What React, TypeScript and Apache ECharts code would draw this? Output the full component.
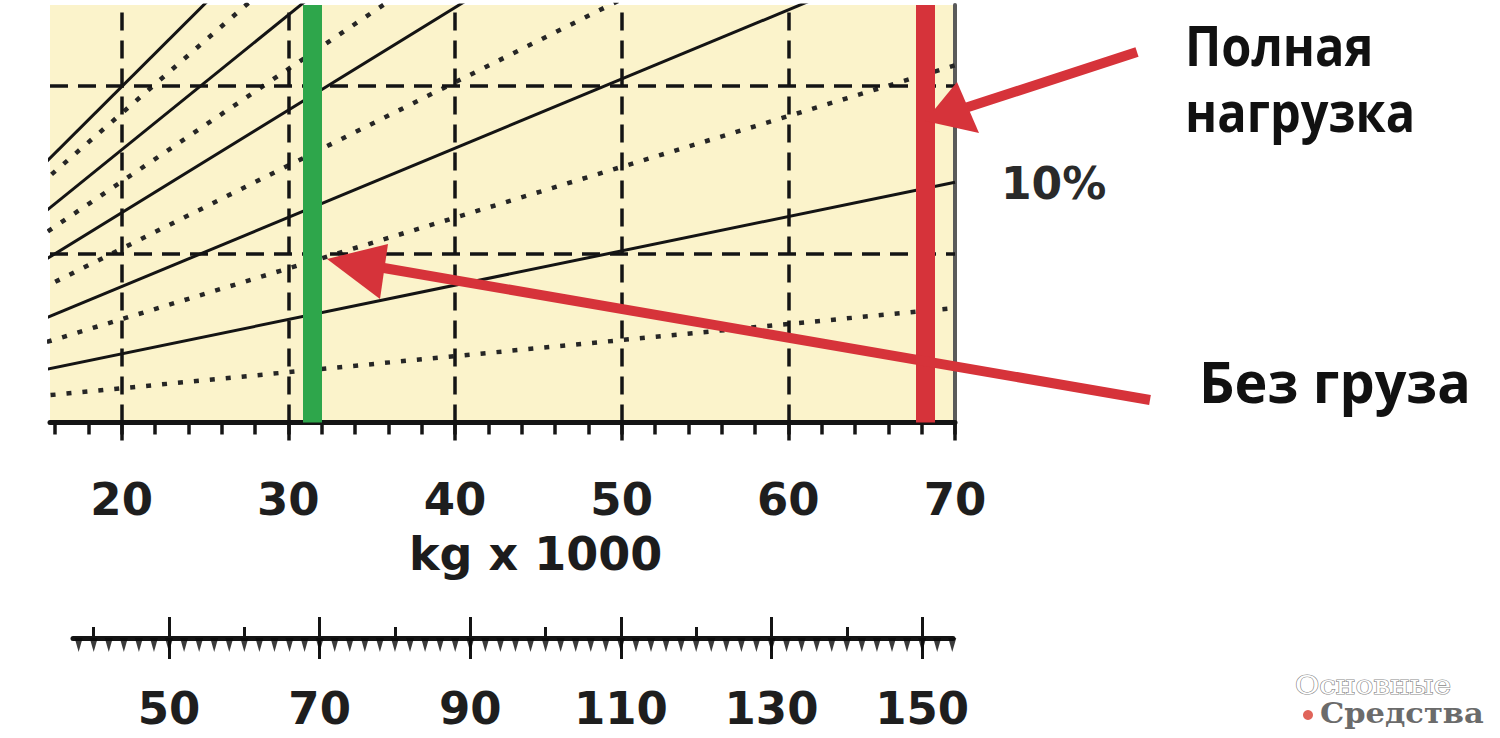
import React, { useEffect, useRef } from "react";
import * as echarts from "echarts";

// Gross weight axis (kg x 1000)
const weightMinorTicks = [16, 18, 20, 22, 24, 26, 28, 30, 32, 34, 36, 38, 40, 42, 44, 46, 48, 50, 52, 54, 56, 58, 60, 62, 64, 66, 68, 70];
const weightLabels = [20, 30, 40, 50, 60, 70];
const weightGridLines = [20, 30, 40, 50, 60];
// Rimpull / resistance grid lines (kg x 1000)
const rimpullGridLines = [5, 10];
// Total-resistance lines: values read at two weights
const lineWeights = [10, 70];
const grades = ["5%", "10%", "15%", "20%", "25%", "30%", "35%", "40%", "45%", "50%"];
const rimpullAt10t = [0.54, 1.02, 1.56, 1.98, 2.69, 3.18, 3.81, 4.09, 4.87, 5.04];
const rimpullAt70t = [3.4, 7.13, 10.6, 14.3, 17.5, 21.45, 23.85, 28.1, 30.7, 34.6];
// Second scale (lb x 1000)
const lbMinorTicks = [38, 40, 42, 44, 46, 48, 50, 52, 54, 56, 58, 60, 62, 64, 66, 68, 70, 72, 74, 76, 78, 80, 82, 84, 86, 88, 90, 92, 94, 96, 98, 100, 102, 104, 106, 108, 110, 112, 114, 116, 118, 120, 122, 124, 126, 128, 130, 132, 134, 136, 138, 140, 142, 144, 146, 148, 150, 152, 154];
const lbMajor = [50, 70, 90, 110, 130, 150];
const lbMedium = [40, 60, 80, 100, 120, 140];
// Marked weights
const emptyWeight = 31.46;
const fullWeight = 68.2;

const RED = "#D6333A";
const GREEN = "#2EA64B";
const INK = "#141414";

export default function App() {
  const ref = useRef<HTMLDivElement>(null);

  useEffect(() => {
    document.body.style.margin = "0";
    document.body.style.background = "#ffffff";
    if (!ref.current) return;
    const chart = echarts.init(ref.current, null, { renderer: "svg" });

    const labelFont = {
      fontFamily: "DejaVu Sans",
      fontWeight: "bold" as const,
      fontSize: 45,
      color: "#1e1e1e",
    };

    const gradeSeries = grades.map((g, i) => ({
      type: "line",
      name: g,
      xAxisIndex: 0,
      yAxisIndex: 0,
      data: [
        [lineWeights[0], rimpullAt10t[i]],
        [lineWeights[1], rimpullAt70t[i]],
      ],
      symbol: "none",
      clip: true,
      silent: true,
      z: 3,
      lineStyle:
        i % 2 === 0
          ? { color: "#262626", width: 4.5, type: [5, 11], cap: "butt" }
          : { color: INK, width: 3 },
    }));

    const lbAxisBase = { type: "value", gridIndex: 1, min: 37.25, max: 154.1, position: "bottom", splitLine: { show: false } };

    const option: any = {
      animation: false,
      backgroundColor: "#ffffff",
      grid: [
        { left: 50, top: 5, width: 905, height: 417.5, show: true, backgroundColor: "#FBF3CB", borderWidth: 0 },
        { left: 73, top: 600, width: 880, height: 38, show: false },
      ],
      xAxis: [
        {
          type: "value", gridIndex: 0, min: 15.7, max: 70, position: "bottom", offset: 1,
          axisLine: { show: true, lineStyle: { color: INK, width: 5 } },
          axisTick: { show: true, customValues: weightMinorTicks, length: 12, lineStyle: { color: INK, width: 3.5 } },
          axisLabel: { show: false }, splitLine: { show: false },
        },
        {
          type: "value", gridIndex: 0, min: 15.7, max: 70, position: "bottom", offset: 1,
          axisLine: { show: false },
          axisTick: { show: true, customValues: weightLabels, length: 17, lineStyle: { color: INK, width: 3.5 } },
          axisLabel: { show: true, customValues: weightLabels, margin: 53, ...labelFont },
          splitLine: { show: false },
        },
        {
          ...lbAxisBase,
          axisLine: { show: true, lineStyle: { color: INK, width: 5 } },
          axisTick: { show: false },
          axisLabel: { show: false },
        },
        {
          ...lbAxisBase,
          axisLine: { show: false },
          axisTick: { show: true, customValues: lbMajor, length: 21, lineStyle: { color: INK, width: 3 } },
          axisLabel: { show: true, customValues: lbMajor, margin: 48, ...labelFont },
        },
        {
          ...lbAxisBase,
          axisLine: { show: false },
          axisTick: { show: true, inside: true, customValues: lbMajor, length: 21, lineStyle: { color: INK, width: 3 } },
          axisLabel: { show: false },
        },
        {
          ...lbAxisBase,
          axisLine: { show: false },
          axisTick: { show: true, inside: true, customValues: lbMedium, length: 11, lineStyle: { color: INK, width: 3 } },
          axisLabel: { show: false },
        },
      ],
      yAxis: [
        {
          type: "value", gridIndex: 0, min: 0, max: 12.39, position: "right",
          axisLine: { show: true, lineStyle: { color: "#5a5a5a", width: 4 } },
          axisTick: { show: false }, axisLabel: { show: false }, splitLine: { show: false },
        },
        { type: "value", gridIndex: 1, min: 0, max: 1, show: false },
      ],
      series: [
        {
          type: "line",
          name: "grid",
          xAxisIndex: 0,
          yAxisIndex: 0,
          data: [[20, 0]],
          symbol: "none",
          lineStyle: { opacity: 0 },
          silent: true,
          z: 2,
          markLine: {
            silent: true,
            symbol: ["none", "none"],
            label: { show: false },
            lineStyle: { color: INK, width: 3.5, type: [18, 10] },
            data: [
              ...weightGridLines.map((v) => ({ xAxis: v })),
              ...rimpullGridLines.map((v) => ({ yAxis: v })),
            ],
          },
        },
        ...gradeSeries,
        {
          type: "line",
          name: "marks",
          xAxisIndex: 0,
          yAxisIndex: 0,
          data: [[emptyWeight, 0]],
          symbol: "none",
          lineStyle: { opacity: 0 },
          silent: true,
          z: 10,
          markLine: {
            silent: true,
            symbol: ["none", "none"],
            label: { show: false },
            data: [
              { xAxis: emptyWeight, lineStyle: { color: GREEN, width: 19, type: "solid" } },
              { xAxis: fullWeight, lineStyle: { color: RED, width: 19, type: "solid" } },
            ],
          },
        },
        {
          type: "scatter",
          name: "lb minor ticks",
          xAxisIndex: 2,
          yAxisIndex: 1,
          data: lbMinorTicks.map((v) => [v, 0]),
          symbol: "triangle",
          symbolRotate: 180,
          symbolSize: [8, 14],
          symbolOffset: [0, 7],
          itemStyle: { color: "#0a0a0a" },
          clip: false,
          silent: true,
          z: 5,
        },
      ],
      graphic: [
        { type: "line", z: 100, shape: { x1: 1137, y1: 52, x2: 962, y2: 109 }, style: { stroke: RED, lineWidth: 10 } },
        { type: "polygon", z: 100, shape: { points: [[925, 121], [957, 82], [979, 133]] }, style: { fill: RED } },
        { type: "line", z: 100, shape: { x1: 1150, y1: 400, x2: 378, y2: 267 }, style: { stroke: RED, lineWidth: 10 } },
        { type: "polygon", z: 100, shape: { points: [[327, 259], [388, 244], [380, 299]] }, style: { fill: RED } },
        {
          type: "text", z: 100, x: 1185, y: 44, scaleX: 0.87,
          style: { text: "Полная", x: 0, y: 0, fontFamily: "Open Sans", fontWeight: 700, fontSize: 56, fill: "#111", textAlign: "left", textVerticalAlign: "middle" },
        },
        {
          type: "text", z: 100, x: 1185, y: 110, scaleX: 0.87,
          style: { text: "нагрузка", x: 0, y: 0, fontFamily: "Open Sans", fontWeight: 700, fontSize: 56, fill: "#111", textAlign: "left", textVerticalAlign: "middle" },
        },
        {
          type: "text", z: 100, x: 1199, y: 381, scaleX: 0.96,
          style: { text: "Без груза", x: 0, y: 0, fontFamily: "Open Sans", fontWeight: 700, fontSize: 58, fill: "#111", textAlign: "left", textVerticalAlign: "middle" },
        },
        {
          type: "text", z: 100, x: 1001, y: 183,
          style: { text: "10%", x: 0, y: 0, fontFamily: "DejaVu Sans", fontWeight: "bold", fontSize: 44, fill: "#2a2a2a", textAlign: "left", textVerticalAlign: "middle" },
        },
        {
          type: "text", z: 100, x: 409, y: 554,
          style: { text: "kg x 1000", x: 0, y: 0, fontFamily: "DejaVu Sans", fontWeight: "bold", fontSize: 46, fill: "#1c1c1c", textAlign: "left", textVerticalAlign: "middle" },
        },
        {
          type: "text", z: 100, x: 1295, y: 685, scaleX: 1.14,
          style: { text: "Основные", x: 0, y: 0, fontFamily: "DejaVu Serif", fontSize: 26, fill: "#ffffff", stroke: "#8a8a8a", lineWidth: 1.2, textAlign: "left", textVerticalAlign: "middle" },
        },
        {
          type: "text", z: 100, x: 1320, y: 713, scaleX: 1.09,
          style: { text: "Средства", x: 0, y: 0, fontFamily: "DejaVu Serif", fontWeight: "bold", fontSize: 28, fill: "#6b6b6b", textAlign: "left", textVerticalAlign: "middle" },
        },
        { type: "circle", z: 100, shape: { cx: 1308, cy: 715, r: 5 }, style: { fill: "#E0645A" } },
      ],
    };

    chart.setOption(option);
    return () => chart.dispose();
  }, []);

  return <div ref={ref} style={{ width: 1500, height: 738 }} />;
}
